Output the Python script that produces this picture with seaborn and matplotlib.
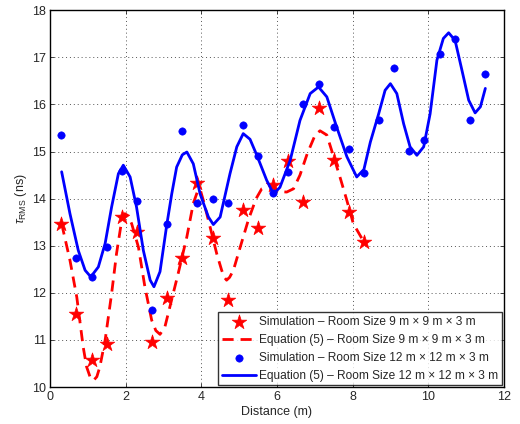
import matplotlib
matplotlib.use("Agg")
import matplotlib.pyplot as plt
import seaborn as sns
import numpy as np

# simulation points
sim_x_9 = [0.3, 0.7, 1.1, 1.5, 1.9, 2.3, 2.7, 3.1, 3.5, 3.9, 4.3, 4.7, 5.1, 5.5,
           5.9, 6.3, 6.7, 7.1, 7.5, 7.9, 8.3]
sim_y_9 = [13.46, 11.55, 10.57, 10.91, 13.6, 13.3, 10.96, 11.9, 12.74, 14.33, 13.17,
           11.85, 13.76, 13.38, 14.3, 14.79, 13.92, 15.92, 14.83, 13.72, 13.08]

sim_x_12 = [0.3, 0.7, 1.1, 1.5, 1.9, 2.3, 2.7, 3.1, 3.5, 3.9, 4.3, 4.7, 5.1, 5.5,
            5.9, 6.3, 6.7, 7.1, 7.5, 7.9, 8.3, 8.7, 9.1, 9.5, 9.9, 10.3, 10.7,
            11.1, 11.5]
sim_y_12 = [15.36, 12.74, 12.34, 12.98, 14.59, 13.94, 11.64, 13.47, 15.44, 13.9,
            14.0, 13.9, 15.57, 14.9, 14.13, 14.57, 16.0, 16.43, 15.53, 15.05,
            14.55, 15.66, 16.77, 15.02, 15.24, 17.08, 17.38, 15.67, 16.64]

# equation (5) curves
eq_x_9 = [0.31, 0.53, 0.71, 0.88, 0.97, 1.06, 1.15, 1.24, 1.32, 1.46, 1.63, 1.76,
          1.90, 1.98, 2.06, 2.16, 2.34, 2.51, 2.69, 2.80, 2.91, 3.04, 3.17, 3.39,
          3.62, 3.79, 3.90, 3.97, 4.06, 4.19, 4.41, 4.54, 4.61, 4.67, 4.75, 4.85,
          5.03, 5.25, 5.45, 5.60, 5.80, 6.05, 6.26, 6.44, 6.61, 6.80, 7.01, 7.14,
          7.32, 7.50, 7.67, 7.85, 8.02, 8.30]
eq_y_9 = [13.47, 12.69, 11.91, 10.85, 10.43, 10.22, 10.14, 10.22, 10.43, 11.0,
          11.98, 12.83, 13.55, 13.68, 13.64, 13.47, 12.97, 12.13, 11.42, 11.2,
          11.12, 11.28, 11.7, 12.41, 13.19, 13.9, 14.15, 14.2, 13.95, 13.54,
          12.83, 12.48, 12.33, 12.27, 12.33, 12.48, 12.97, 13.56, 14.0, 14.21,
          14.28, 14.15, 14.14, 14.21, 14.5, 14.95, 15.35, 15.44, 15.35, 14.89,
          14.45, 13.96, 13.47, 13.08]

eq_x_12 = [0.31, 0.53, 0.75, 0.93, 1.08, 1.28, 1.46, 1.63, 1.81, 1.94, 2.12, 2.29,
           2.47, 2.65, 2.75, 2.91, 3.09, 3.22, 3.35, 3.50, 3.62, 3.79, 3.97, 4.19,
           4.32, 4.50, 4.76, 4.94, 5.11, 5.29, 5.47, 5.73, 5.91, 6.08, 6.35, 6.61,
           6.88, 7.10, 7.32, 7.58, 7.85, 8.11, 8.30, 8.47, 8.69, 8.86, 9.00, 9.17,
           9.35, 9.52, 9.70, 9.88, 10.05, 10.23, 10.40, 10.54, 10.71, 10.89, 11.07,
           11.24, 11.38, 11.51]
eq_y_12 = [14.57, 13.68, 12.9, 12.48, 12.34, 12.55, 13.05, 13.82, 14.53, 14.71,
           14.46, 13.82, 12.9, 12.27, 12.13, 12.45, 13.45, 14.1, 14.67, 14.93,
           14.99, 14.74, 14.1, 13.61, 13.45, 13.61, 14.53, 15.1, 15.38, 15.26,
           14.92, 14.39, 14.1, 14.24, 14.81, 15.66, 16.23, 16.37, 16.16, 15.52,
           14.89, 14.46, 14.62, 15.2, 15.8, 16.3, 16.44, 16.23, 15.59, 15.1,
           14.92, 15.1, 15.8, 16.94, 17.4, 17.52, 17.36, 16.73, 16.09, 15.82,
           15.95, 16.34]

sns.set_style("ticks")
plt.rcParams["font.family"] = ["Liberation Sans", "DejaVu Sans"]
plt.rcParams["mathtext.fontset"] = "custom"
plt.rcParams["mathtext.rm"] = "Liberation Sans"
plt.rcParams["mathtext.it"] = "Liberation Sans:italic"
plt.rcParams["lines.solid_joinstyle"] = "round"
plt.rcParams["lines.dash_joinstyle"] = "round"

fig = plt.figure(figsize=(5.2, 4.24), dpi=100)
ax = fig.add_axes([0.096, 0.087, 0.873, 0.889])

sns.scatterplot(x=sim_x_9, y=sim_y_9, ax=ax, marker="*", s=120, color="red",
                edgecolor="red", linewidth=0.5, zorder=3,
                label="Simulation \u2013 Room Size 9 m \u00d7 9 m \u00d7 3 m")
sns.lineplot(x=eq_x_9, y=eq_y_9, ax=ax, color="red", linewidth=2,
             sort=False, zorder=2,
             label="Equation (5) \u2013 Room Size 9 m \u00d7 9 m \u00d7 3 m")
ax.lines[-1].set_linestyle((0, (4, 2.5)))
sns.scatterplot(x=sim_x_12, y=sim_y_12, ax=ax, marker="o", s=28, color="blue",
                edgecolor="blue", zorder=3,
                label="Simulation \u2013 Room Size 12 m \u00d7 12 m \u00d7 3 m")
sns.lineplot(x=eq_x_12, y=eq_y_12, ax=ax, color="blue", linewidth=2,
             sort=False, zorder=4,
             label="Equation (5) \u2013 Room Size 12 m \u00d7 12 m \u00d7 3 m")

ax.set_xlim(0, 12)
ax.set_ylim(10, 18)
ax.set_xticks(np.arange(0, 13, 2))
ax.set_yticks(np.arange(10, 19, 1))
ax.grid(True, linestyle=(0, (1, 3)), color="#555555", linewidth=0.7)
ax.tick_params(direction="in", top=True, right=True, labelsize=9, length=3,
               width=0.6, pad=3)
for sp in ax.spines.values():
    sp.set_linewidth(1)
    sp.set_color("black")

ax.set_xlabel("Distance (m)", fontsize=9, labelpad=2)
ax.set_ylabel(r"$\tau_{\mathrm{RMS}}$ (ns)", fontsize=9, labelpad=2)

leg = ax.legend(loc="lower right", fontsize=8.6, frameon=True, fancybox=False,
                borderaxespad=0.15, handlelength=2.9, handletextpad=0.25,
                labelspacing=0.5, borderpad=0.3)
leg.get_frame().set_edgecolor("black")
leg.get_frame().set_linewidth(1)

fig.savefig("out.png", dpi=100)
